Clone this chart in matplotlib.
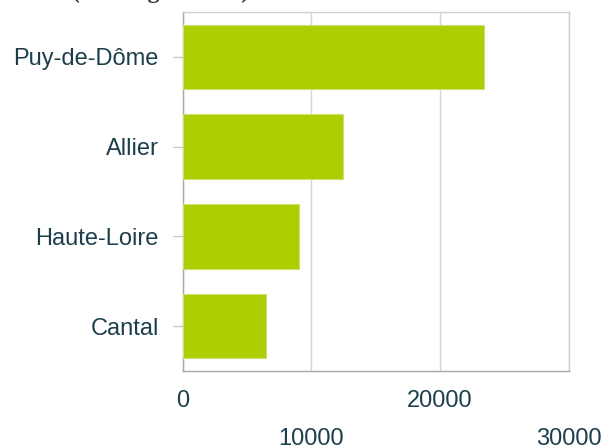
import matplotlib
matplotlib.use("Agg")
import matplotlib.pyplot as plt

# departements, bottom to top
departements = ['Cantal', 'Haute-Loire', 'Allier', 'Puy-de-Dôme']
valeurs = [6500, 9050, 12500, 23400]
ticks_row1 = [0, 20000]
ticks_row2 = [10000, 30000]
titre = '(en kilogrammes)'

txt = '#1d3f4b'
plt.rcParams['font.family'] = ['Liberation Sans', 'DejaVu Sans']

fig = plt.figure(figsize=(6.02, 4.48), dpi=100)
ax = fig.add_axes([182.5/602, 77/448, 386/602, 359/448])

ax.barh(departements, valeurs, height=0.72, color='#aecd03',
        edgecolor='#cfe070', linewidth=0.8, zorder=3)

ax.set_xlim(0, 30000)
ax.set_ylim(-0.5, 3.5)

# labels staggered on two rows
ax.set_xticks(ticks_row1)
ax.set_xticks(ticks_row2, minor=True)
ax.set_xticklabels([str(t) for t in ticks_row1])
ax.set_xticklabels([str(t) for t in ticks_row2], minor=True)
ax.tick_params(axis='x', which='major', length=0, pad=14, labelsize=17, labelcolor=txt)
ax.tick_params(axis='x', which='minor', length=0, pad=41, labelsize=17, labelcolor=txt)
ax.tick_params(axis='y', length=7, color='#c8c8c8', width=1, pad=10,
               labelsize=17, labelcolor=txt)

ax.grid(axis='x', which='both', color='#d4d4d4', linewidth=1, zorder=0)
ax.grid(axis='y', visible=False)
ax.set_axisbelow(True)

for side in ['top', 'right']:
    ax.spines[side].set_color('#d0d0d0')
for side in ['left', 'bottom']:
    ax.spines[side].set_color('#a8a8a8')
for s in ax.spines.values():
    s.set_linewidth(1)

# title sits above the figure, only descenders show
fig.text(161/602, 1 + 2/448, titre, ha='center', va='baseline',
         fontsize=17, fontweight='bold', family='Liberation Serif', color='#333333')

fig.savefig('out.png', dpi=100)
